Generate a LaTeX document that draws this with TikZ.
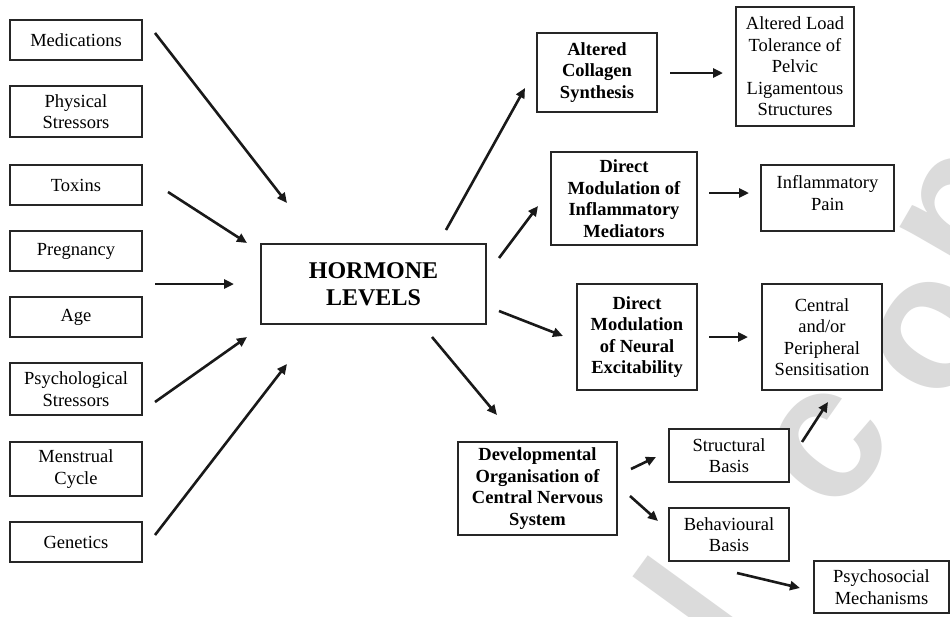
\documentclass[tikz,border=0pt]{standalone}
\usepackage{fontspec}
\setmainfont{Liberation Serif}
\newfontfamily\wmfont{Liberation Sans}
\usetikzlibrary{arrows.meta}
\begin{document}
\begin{tikzpicture}[x=1pt,y=-1pt,
  box/.style={draw=black!85, line width=1.8pt, fill=white, align=center, inner sep=0pt,
    font=\fontsize{18.5}{21.5}\selectfont},
  bbox/.style={box, font=\fontsize{18.5}{21.5}\selectfont\bfseries},
  arr/.style={draw=black!90, line width=2.6pt, -{Triangle[length=10pt,width=9pt]}},
  wm/.style={text=black!14, font=\fontsize{190}{190}\wmfont\bfseries, inner sep=0pt, anchor=base}]
\fill[white] (0,0) rectangle (950,616);
\useasboundingbox (0,0) rectangle (950,616);
% watermark
\node[wm, rotate=54] (wml) at (752,647) {l};
\node[wm, rotate=52] (wmc) at (868,478) {c};
\node[wm, rotate=58] (wmo) at (976,362) {o};
\node[wm, rotate=60] (wmp) at (1010,238) {p};
% left column
\node[box, minimum width=132, minimum height=40] (med) at (76,40) {Medications};
\node[box, minimum width=132, minimum height=51] (phys) at (76,111.5) {Physical\\Stressors};
\node[box, minimum width=132, minimum height=40] (tox) at (76,185) {Toxins};
\node[box, minimum width=132, minimum height=40] (preg) at (76,251) {Pregnancy};
\node[box, minimum width=132, minimum height=40] (age) at (76,317) {Age};
\node[box, minimum width=132, minimum height=52] (psy) at (76,389) {Psychological\\Stressors};
\node[box, minimum width=132, minimum height=54] (men) at (76,469) {Menstrual\\Cycle};
\node[box, minimum width=132, minimum height=40] (gen) at (76,542) {Genetics};
% centre
\node[box, minimum width=225, minimum height=80, font=\fontsize{24}{27}\selectfont\bfseries] (horm) at (373.5,284) {HORMONE\\LEVELS};
% right
\node[bbox, minimum width=120, minimum height=79] (coll) at (597,72.5) {Altered\\Collagen\\Synthesis};
\node[box, minimum width=118, minimum height=119] (load) at (795,66.5) {Altered Load\\Tolerance of\\Pelvic\\Ligamentous\\Structures};
\node[bbox, minimum width=146, minimum height=93] (infl) at (624,198.5) {Direct\\Modulation of\\Inflammatory\\Mediators};
\node[box, minimum width=133, minimum height=66] (ipain) at (827.5,198) {Inflammatory\\Pain\rule[-10pt]{0pt}{1pt}};
\node[bbox, minimum width=120, minimum height=106] (neur) at (637,337) {Direct\\Modulation\\of Neural\\Excitability};
\node[box, minimum width=120, minimum height=106] (cent) at (822,337) {Central\\and/or\\Peripheral\\Sensitisation};
\node[bbox, minimum width=159, minimum height=93] (dev) at (537.5,488.5) {Developmental\\Organisation of\\Central Nervous\\System};
\node[box, minimum width=120, minimum height=53] (struc) at (729,455.5) {Structural\\Basis};
\node[box, minimum width=120, minimum height=53] (behav) at (729,534.5) {Behavioural\\Basis};
\node[box, minimum width=135, minimum height=52] (psycho) at (881.5,587) {Psychosocial\\Mechanisms};
% arrow end points
\coordinate (a1s) at (155,33);  \coordinate (a1e) at (287,203);
\coordinate (a2s) at (168,192); \coordinate (a2e) at (247,243);
\coordinate (a3s) at (155,284); \coordinate (a3e) at (234,284);
\coordinate (a4s) at (155,402); \coordinate (a4e) at (247,337);
\coordinate (a5s) at (155,535); \coordinate (a5e) at (287,364);
\coordinate (a6s) at (446,230); \coordinate (a6e) at (525,88);
\coordinate (a7s) at (499,258); \coordinate (a7e) at (538,206);
\coordinate (a8s) at (499,311); \coordinate (a8e) at (563,336);
\coordinate (a9s) at (432,337); \coordinate (a9e) at (497,415);
\coordinate (a10s) at (670,73); \coordinate (a10e) at (723,73);
\coordinate (a11s) at (709,193); \coordinate (a11e) at (749,193);
\coordinate (a12s) at (709,337); \coordinate (a12e) at (748,337);
\coordinate (a13s) at (631,469); \coordinate (a13e) at (656,457);
\coordinate (a14s) at (630,496); \coordinate (a14e) at (658,521);
\coordinate (a15s) at (802,442); \coordinate (a15e) at (828,402);
\coordinate (a16s) at (737,573); \coordinate (a16e) at (800,588);
\foreach \i in {1,...,16} {\draw[arr] (a\i s) -- (a\i e);}
\end{tikzpicture}
\end{document}
